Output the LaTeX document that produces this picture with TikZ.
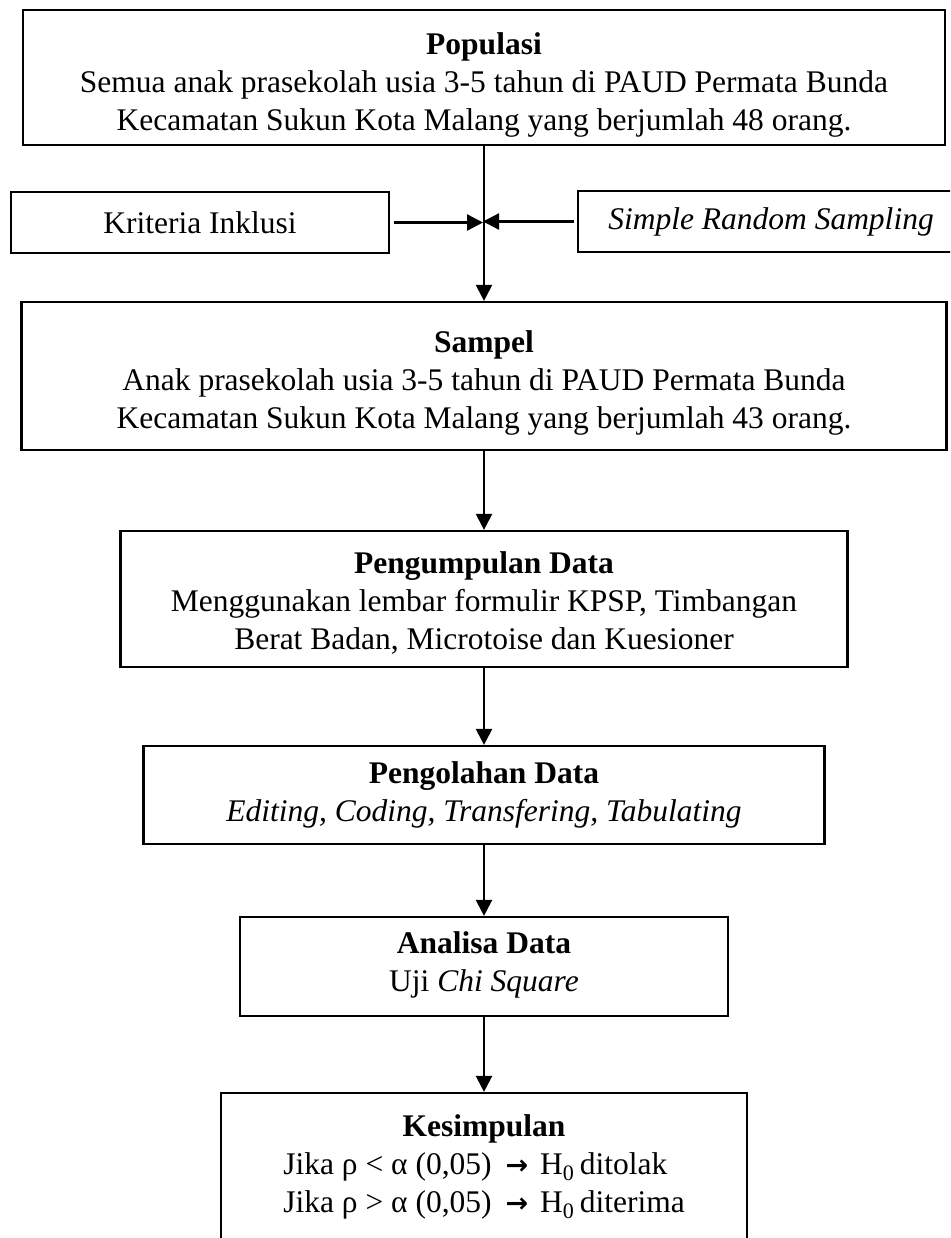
\documentclass[tikz,border=0pt]{standalone}
\usepackage{fontspec}
\setmainfont{Liberation Serif}
\newfontfamily\arrowfont{DejaVu Sans}
\usetikzlibrary{arrows.meta}
\begin{document}
\begin{tikzpicture}[x=1pt,y=-1pt,
  box/.style={draw,line width=2.2pt,inner sep=0pt,font=\fontsize{31.5}{38}\selectfont},
  txt/.style={anchor=north,inner sep=0pt,align=center,font=\fontsize{31.5}{38}\selectfont},
  conn/.style={line width=2.3pt,-{Triangle[length=16pt,width=16pt]}}]
\clip (0,0) rectangle (950,1238);
% boxes
\node[box,minimum width=922pt,minimum height=135pt] (pop) at (484,77.5) {};
\node[box,minimum width=378pt,minimum height=61pt] (krit) at (200,222.5) {Kriteria Inklusi};
\node[box,minimum width=386pt,minimum height=61pt] (srs) at (771,221.5) {\textit{Simple Random Sampling}};
\node[box,minimum width=925pt,minimum height=148pt] (samp) at (484,376) {};
\node[box,minimum width=727pt,minimum height=136pt] (kumpul) at (484,599) {};
\node[box,minimum width=681pt,minimum height=98pt] (olah) at (484,795) {};
\node[box,minimum width=488pt,minimum height=99pt] (analisa) at (484,966.5) {};
\node[box,minimum width=526pt,minimum height=160pt] (kes) at (484,1173) {};
% texts
\node[txt] (popT) at (484,32) {\textbf{Populasi}\\Semua anak prasekolah usia 3-5 tahun di PAUD Permata Bunda\\Kecamatan Sukun Kota Malang yang berjumlah 48 orang.};
\node[txt] (sampT) at (484,330) {\textbf{Sampel}\\Anak prasekolah usia 3-5 tahun di PAUD Permata Bunda\\Kecamatan Sukun Kota Malang yang berjumlah 43 orang.};
\node[txt] (kumpulT) at (484,551) {\textbf{Pengumpulan Data}\\Menggunakan lembar formulir KPSP, Timbangan\\Berat Badan, Microtoise dan Kuesioner};
\node[txt] (olahT) at (484,761) {\textbf{Pengolahan Data}\\\textit{Editing, Coding, Transfering, Tabulating}};
\node[txt] (analisaT) at (484,931) {\textbf{Analisa Data}\\Uji \textit{Chi Square}};
\node[txt] (kesT) at (484,1114) {\textbf{Kesimpulan}\\
  \begin{tabular}[t]{@{}l@{}}
  Jika ρ < α (0,05)\hspace{14pt}{\arrowfont\bfseries\fontsize{27}{27}\selectfont →}\hspace{12pt}H\textsubscript{0}\,ditolak\\
  Jika ρ > α (0,05)\hspace{14pt}{\arrowfont\bfseries\fontsize{27}{27}\selectfont →}\hspace{12pt}H\textsubscript{0}\,diterima
  \end{tabular}};
% connectors
\draw[conn] (pop.south) -- (samp.north);
\draw[conn,shorten <=4pt,shorten >=1pt] (krit.east) -- (krit.east -| pop.south);
\draw[conn,shorten <=3pt,shorten >=-1pt] (srs.west) -- (srs.west -| pop.south);
\draw[conn] (samp.south) -- (kumpul.north);
\draw[conn] (kumpul.south) -- (olah.north);
\draw[conn] (olah.south) -- (analisa.north);
\draw[conn] (analisa.south) -- (kes.north);
\end{tikzpicture}
\end{document}
